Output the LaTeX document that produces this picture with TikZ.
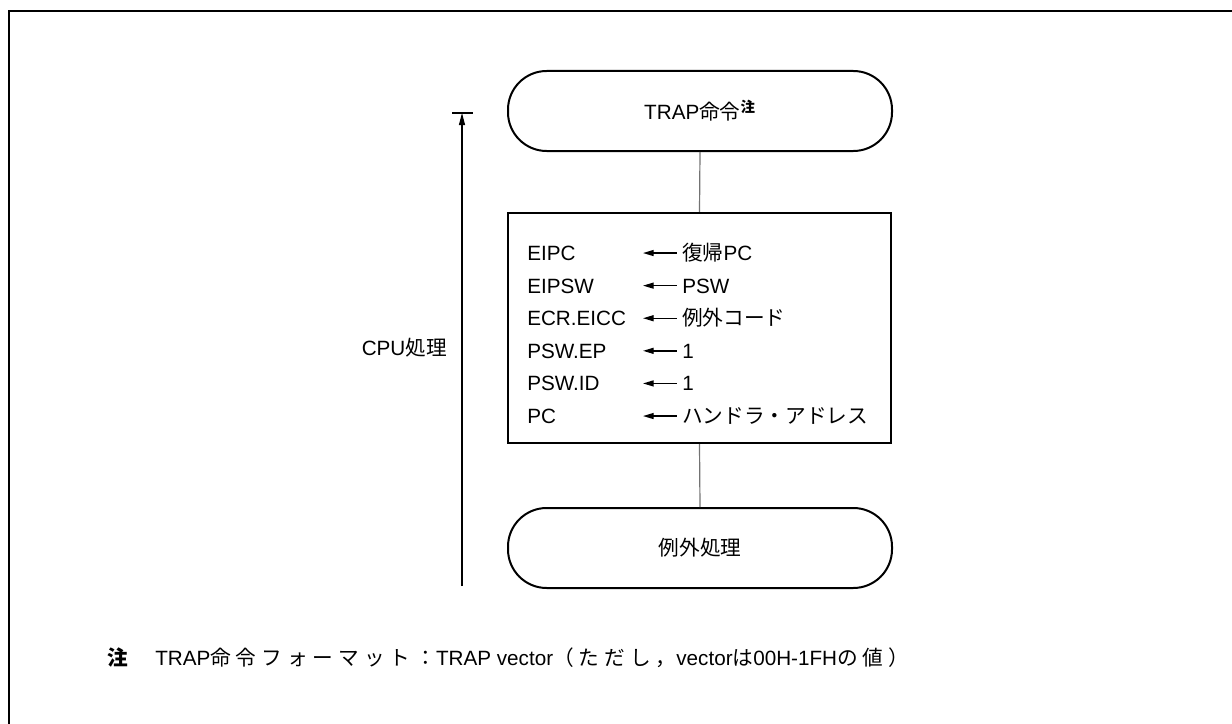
\documentclass[tikz,border=0pt]{standalone}
\usepackage{fontspec}
\setmainfont{Liberation Sans}
\newfontfamily\jp{Noto Sans CJK JP}
\newfontfamily\jpwide[LetterSpace=24]{Noto Sans CJK JP}
\usetikzlibrary{arrows.meta}
\newcommand\J[1]{{\jp #1}}
\newcommand\JW[1]{{\jpwide #1}}
\begin{document}
\begin{tikzpicture}[x=0.75pt,y=-0.75pt,
  every node/.style={font=\fontsize{15.5}{18}\selectfont, inner sep=0pt},
  term/.style={draw, line width=1.5pt, rounded corners=29pt, minimum width=288pt, minimum height=60pt},
  procbox/.style={draw, line width=1.6pt, minimum width=287pt, minimum height=172.5pt},
  link/.style={draw=black!55, line width=0.9pt},
  rowtext/.style={anchor=base west},
  assign/.style={{Triangle[length=8pt,width=4.5pt]}-, line width=1pt},
  span/.style={-{Triangle[length=9pt,width=4.5pt]}, line width=0.8pt}
]
\useasboundingbox (0,0) rectangle (1232,724);
\draw[line width=1.6pt] (9,11) rectangle (1250,740);

\node[term] (trap) at (700,111) {TRAP\J{命令}\textsuperscript{\J{\bfseries 注}}};
\node[procbox] (box) at (699.5,328) {};
\node[term] (exc) at (700,548) {\J{例外処理}};

\draw[link] (trap.south) -- (box.north);
\draw[link] (box.south) -- (exc.north);

% rows
\foreach \i/\l/\r [count=\n] in {
  1/EIPC/\J{復帰}PC,
  2/EIPSW/PSW,
  3/ECR.EICC/\J{例外コード},
  4/PSW.EP/1,
  5/PSW.ID/1,
  6/PC/\J{ハンドラ・アドレス}} {
  \pgfmathsetmacro\yy{253+(\n-1)*32.6+7.5}
  \node[rowtext] (l\n) at (527,\yy) {\l};
  \node[rowtext] (r\n) at (682,\yy) {\r};
  \draw[assign] ([xshift=-29.25pt,yshift=5.6pt]r\n.base west) coordinate (a\n) -- ([xshift=-3.75pt,yshift=5.6pt]r\n.base west) coordinate (b\n);
}

% CPU span arrow
\coordinate (cpuB) at (462,586);
\coordinate (cpuT) at (462,113);
\coordinate (barL) at (452,113);
\coordinate (barR) at (473,113);
\draw[span] (cpuB) -- (cpuT);
\draw[line width=0.8pt] (barL) -- (barR);
\node[anchor=east] (cpu) at (447,348) {CPU\J{処理}};

% footnote
\node[anchor=base west] (notemark) at (107,665) {\J{\bfseries 注}};
\node[anchor=base west] (notetext) at (155,665) {TRAP\JW{命令フォーマット：}TRAP vector\JW{（ただし，}vector\JW{は}00H-1FH\JW{の値）}};
\end{tikzpicture}
\end{document}
